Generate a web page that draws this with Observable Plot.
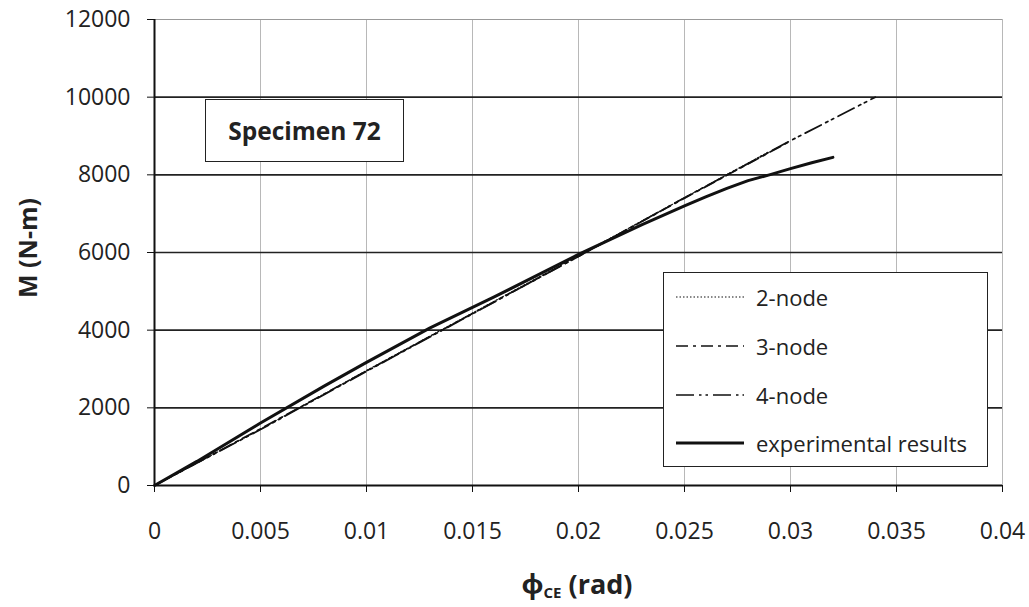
<!DOCTYPE html>
<html>
<head>
<meta charset="utf-8">
<script src="https://cdn.jsdelivr.net/npm/d3@7"></script>
<script src="https://cdn.jsdelivr.net/npm/@observablehq/plot@0.6"></script>
<style>
  html, body { margin: 0; padding: 0; background: #fff; }
  #wrap { position: relative; width: 1029px; height: 607px; font-family: "Open Sans", "Noto Sans", sans-serif; color: #222; }
  #specimen { position: absolute; left: 205px; top: 99px; width: 199px; height: 63px; border: 1.5px solid #222; background: #fff;
    display: flex; align-items: center; justify-content: center; font-weight: bold; font-size: 24.5px; box-sizing: border-box; }
  #legend { position: absolute; left: 663px; top: 272px; width: 325px; height: 195px; border: 1.5px solid #222; background: #fff; box-sizing: border-box; }
  .lg { position: absolute; left: 12px; height: 30px; display: flex; align-items: center; font-size: 22px; white-space: nowrap; }
  .lg svg { margin-right: 12px; }
  #xlabel { position: absolute; left: 577px; top: 583px; transform: translate(-50%, -50%); font-weight: bold; font-size: 27px; white-space: nowrap; }
  #xlabel sub { font-size: 15px; vertical-align: -4px; }
  #ylabel { position: absolute; left: 27px; top: 248px; transform: translate(-50%, -50%) rotate(-90deg); font-weight: bold; font-size: 25px; white-space: nowrap; }
</style>
</head>
<body>
<div id="wrap">
  <div id="chart"></div>
  <div id="specimen">Specimen 72</div>
  <div id="legend"></div>
  <div id="xlabel">ϕ<sub>CE</sub> (rad)</div>
  <div id="ylabel">M (N-m)</div>
</div>
<script>
const xTicks = [0, 0.005, 0.01, 0.015, 0.02, 0.025, 0.03, 0.035, 0.04];
const yTicks = [0, 2000, 4000, 6000, 8000, 10000, 12000];

const node2X = [0, 0.005, 0.01, 0.015, 0.02, 0.025, 0.029];
const node2Y = [0, 1450, 2960, 4440, 5920, 7410, 8600];
const node3X = [0, 0.005, 0.01, 0.015, 0.02, 0.025, 0.03];
const node3Y = [0, 1460, 2950, 4430, 5900, 7400, 8870];
const node4X = [0, 0.005, 0.01, 0.015, 0.02, 0.025, 0.03, 0.034];
const node4Y = [0, 1440, 2940, 4420, 5900, 7410, 8880, 10000];
const expX = [0, 0.002, 0.005, 0.008, 0.01, 0.013, 0.016, 0.02, 0.023, 0.025, 0.026, 0.027, 0.028, 0.029, 0.03, 0.031, 0.032];
const expY = [0, 620, 1610, 2560, 3170, 4060, 4850, 5950, 6720, 7200, 7430, 7650, 7850, 8000, 8160, 8310, 8450];

const series = [
  {name: "2-node", xs: node2X, ys: node2Y, dash: "1.5,2", width: 1.2},
  {name: "3-node", xs: node3X, ys: node3Y, dash: "12,5,3,5", width: 1.7},
  {name: "4-node", xs: node4X, ys: node4Y, dash: "18,5,2.5,4,2.5,5", width: 1.7},
  {name: "experimental results", xs: expX, ys: expY, dash: null, width: 3}
];
const toRows = s => s.xs.map((x, i) => ({x, y: s.ys[i]}));

const marks = [
  Plot.ruleX(xTicks.filter(d => d > 0), {stroke: "#b8b8b8", strokeWidth: 1}),
  Plot.ruleY(yTicks.filter(d => d > 0 && d < 12000), {stroke: "#222", strokeWidth: 1.6}),
  Plot.ruleY([12000], {stroke: "#999", strokeWidth: 1}),
  Plot.ruleY([0], {stroke: "#111", strokeWidth: 2}),
  Plot.ruleX([0], {stroke: "#111", strokeWidth: 2}),
  ...series.map(s => Plot.line(toRows(s), {x: "x", y: "y", stroke: "#111", strokeWidth: s.width, strokeDasharray: s.dash || undefined})),
  Plot.axisX({ticks: xTicks, tickFormat: d => String(d), tickSize: 7, tickPadding: 30, fontSize: 23, label: null, stroke: "#111"}),
  Plot.axisY({ticks: yTicks, tickFormat: d => String(d), tickSize: 7, tickPadding: 17, fontSize: 23, label: null, stroke: "#111"})
];

const chart = Plot.plot({
  width: 1029, height: 607,
  marginLeft: 154, marginRight: 27, marginTop: 19, marginBottom: 122,
  x: {domain: [0, 0.04]},
  y: {domain: [0, 12000]},
  style: {fontFamily: "'Open Sans', 'Noto Sans', sans-serif", color: "#222", background: "#fff", overflow: "visible"},
  marks
});
document.getElementById("chart").appendChild(chart);

const legend = document.getElementById("legend");
const tops = [9, 58, 107, 155];
series.forEach((s, i) => {
  const row = document.createElement("div");
  row.className = "lg";
  row.style.top = tops[i] + "px";
  row.innerHTML = `<svg width="68" height="24"><line x1="0" x2="68" y1="12" y2="12" stroke="#111" stroke-width="${s.width}" ${s.dash ? `stroke-dasharray="${s.dash}"` : ""}/></svg><span>${s.name}</span>`;
  legend.appendChild(row);
});
</script>
</body>
</html>
